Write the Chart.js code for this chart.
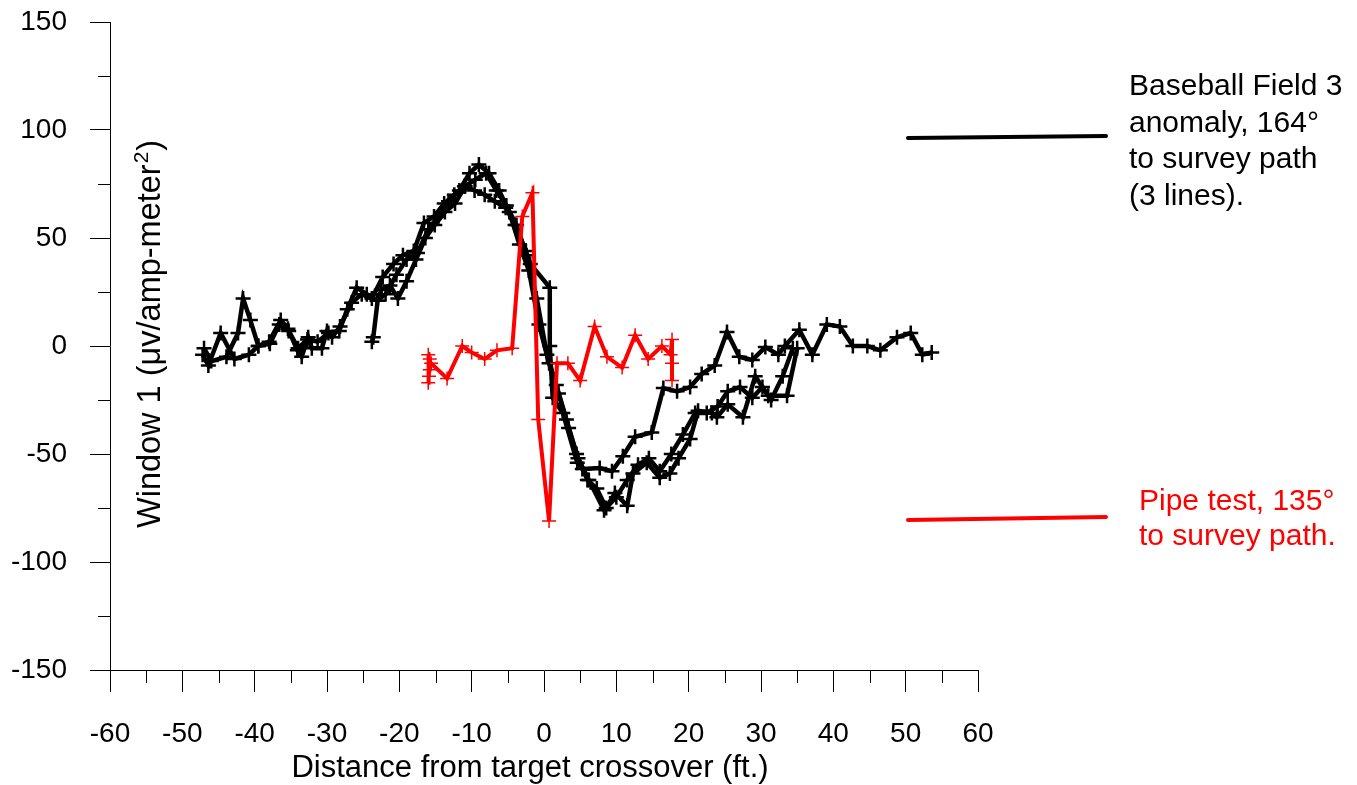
<!DOCTYPE html>
<html lang="en">
<head>
  <meta charset="UTF-8" />
  <title>Window 1 – Baseball Field 3 vs pipe test</title>
  <script src="https://cdn.jsdelivr.net/npm/chart.js"></script>
  <style>
    html, body { margin: 0; background: #fff; }
    #wrap { width: 1357px; height: 785px; position: relative; }
  </style>
</head>
<body>
  <div id="wrap"><canvas id="chart"></canvas></div>

  <script>
    // Baseball Field 3 anomaly, three survey lines (ft., µv/amp-m²)
    const fieldAX = [-47.2,-46.4,-44.7,-42.8,-40.8,-39.5,-38.0,-36.4,-35.4,-34.1,-33.5,-32.6,-32.1,-30.7,-30.0,-29.3,-28.2,-26.6,-25.2,-23.8,-22.3,-20.8,-19.5,-18.0,-16.6,-15.2,-13.8,-12.4,-11.0,-9.6,-8.2,-6.8,-5.3,-4.0,-2.5,-1.9,0.8,0.8,1.2,2.6,4.6,5.3,7.7,9.4,10.9,12.6,14.9,16.5,18.4,20.2,21.8,23.6,25.3,27.0,28.8,30.6,32.4,33.3,35.3,37.1,39.1,40.9,42.7,44.7,46.5,48.8,50.7,52.3,53.6];
    const fieldAY = [-4,-9,6,-6,-4,0,2,12,8,-2,-5,4,-1,-1,7,4,9,20,24,22,32,38,42,44,57,60,66,70,74,72,70,67,64,56,44,38,27,0,-24,-31,-54,-57,-56.5,-58,-51,-42,-40,-19.5,-21,-19,-13,-9,6.5,-5,-6.5,-0.5,-4,0,7.5,-4,10,9,0,0,-2,4,6,-4,-3];

    const fieldBX = [-47.0,-46.0,-43.9,-42.3,-41.6,-40.6,-39.5,-37.9,-36.6,-35.3,-34.0,-32.7,-31.3,-29.8,-28.3,-27.2,-25.9,-24.5,-23.1,-21.9,-20.4,-19.0,-17.5,-16.0,-14.6,-13.2,-11.7,-10.3,-9.0,-7.6,-6.2,-4.8,-3.4,-2.1,-0.7,0.7,2.0,3.4,4.7,6.2,8.3,10.0,11.5,13.0,14.5,16.0,17.6,19.2,20.9,22.5,24.0,25.4,27.1,28.8,30.2,31.4,33.0,34.4];
    const fieldBY = [-1,-7,-5,6,22,12,0,1,10,7,-1,3,2,6,7,17,27,24,21,24,33,40,43,54,60,67,72,80,84,80,72,62,47,35,10,-8,-22,-38,-52,-62,-76,-70,-62,-55,-52,-58,-50,-41,-31,-31,-28,-21,-19,-24,-19,-25,-14,-1];

    const fieldCX = [-23.8,-23.6,-23.0,-22.5,-21.3,-20.2,-19.0,-17.7,-16.4,-15.1,-13.7,-12.3,-10.9,-9.5,-8.0,-6.6,-5.2,-3.8,-2.4,-1.0,0.4,1.7,3.1,4.5,6.0,7.3,8.6,9.8,11.5,12.3,14.2,16.0,17.4,18.6,20.2,21.3,23.2,23.9,25.4,27.5,29.2,31.0,33.6,35.0];
    const fieldCY = [2,4,21,26,28,22,30,40,50,56,62,66,74,77,80,72,65,56,42,22,-4,-18,-34,-50,-62,-66,-75,-68,-74,-59,-54,-61,-59,-52,-43,-30,-31,-33,-27,-33,-14,-23,-23,-1];

    // Pipe test, 135 deg to survey path
    const pipeX = [-16.0,-16.0,-15.9,-15.8,-15.8,-15.6,-13.4,-11.3,-10.0,-8.2,-6.5,-4.4,-3.0,-1.6,-0.8,0.7,1.8,3.3,5.0,7.0,8.7,10.8,12.6,14.4,16.3,17.5,17.7,17.7,17.7];
    const pipeY = [-17,-4,-14,-6,-11,-8,-15,0,-3,-6,-2,-1,60,71,-34,-81,-8,-8,-16,9,-5,-10,5,-6,0,-4,3,-16,-8];

    // axis ticks
    const xMajor = [-60,-50,-40,-30,-20,-10,0,10,20,30,40,50,60];
    const xMinor = [-55,-45,-35,-25,-15,-5,5,15,25,35,45,55];
    const yMajor = [-150,-100,-50,0,50,100,150];
    const yMinor = [-125,-75,-25,25,75,125];

    const blackLegend = ['Baseball Field 3', 'anomaly, 164\u00B0', 'to survey path', '(3 lines).'];
    const redLegend = ['Pipe test, 135\u00B0', 'to survey path.'];

    const FONT = '"Liberation Sans", Arial, sans-serif';
    const pts = (xs, ys) => xs.map((x, i) => ({ x: x, y: ys[i] }));

    const blackSet = (label, xs, ys) => ({
      label: label,
      data: pts(xs, ys),
      showLine: true,
      borderColor: '#000',
      borderWidth: 4.5,
      pointStyle: 'cross',
      pointRadius: 7.5,
      pointBorderWidth: 2.5,
      pointBorderColor: '#000',
      order: 2
    });

    // minor ticks, legend, axis titles
    const extras = {
      id: 'extras',
      afterDraw(chart) {
        const ctx = chart.ctx;
        const xs = chart.scales.x, ys = chart.scales.y;
        ctx.save();
        ctx.strokeStyle = '#000';
        ctx.lineWidth = 1;
        ctx.beginPath();
        yMinor.forEach(v => {
          const p = Math.round(ys.getPixelForValue(v)) + 0.5;
          ctx.moveTo(xs.left - 12, p); ctx.lineTo(xs.left, p);
        });
        xMinor.forEach(v => {
          const p = Math.round(xs.getPixelForValue(v)) + 0.5;
          ctx.moveTo(p, ys.bottom); ctx.lineTo(p, ys.bottom + 13);
        });
        ctx.stroke();

        // legend lines
        ctx.lineCap = 'round';
        ctx.lineWidth = 4;
        ctx.strokeStyle = '#000';
        ctx.beginPath(); ctx.moveTo(908, 138); ctx.lineTo(1106, 136); ctx.stroke();
        ctx.strokeStyle = '#ff0000';
        ctx.beginPath(); ctx.moveTo(908, 520); ctx.lineTo(1106, 517); ctx.stroke();

        ctx.font = '30px ' + FONT;
        ctx.textAlign = 'left';
        ctx.textBaseline = 'alphabetic';
        ctx.fillStyle = '#000';
        blackLegend.forEach((t, i) => ctx.fillText(t, 1129, 95 + i * 36.7));
        ctx.fillStyle = '#ff0000';
        redLegend.forEach((t, i) => ctx.fillText(t, 1139, 510 + i * 35));

        // x title
        ctx.fillStyle = '#000';
        ctx.font = '31px ' + FONT;
        ctx.textAlign = 'center';
        ctx.fillText('Distance from target crossover (ft.)', 530, 777);

        // y title, rotated, with superscript 2
        ctx.translate(160, 528);
        ctx.rotate(-Math.PI / 2);
        ctx.textAlign = 'left';
        const main = 'Window 1 (\u03BCv/amp-meter';
        ctx.font = '32.5px ' + FONT;
        ctx.fillText(main, 0, 0);
        let w = ctx.measureText(main).width;
        ctx.font = '21px ' + FONT;
        ctx.fillText('2', w + 1, -12);
        w += ctx.measureText('2').width + 2;
        ctx.font = '32.5px ' + FONT;
        ctx.fillText(')', w, 0);
        ctx.restore();
      }
    };

    new Chart(document.getElementById('chart'), {
      type: 'scatter',
      data: {
        datasets: [
          {
            label: 'Pipe test',
            data: pts(pipeX, pipeY),
            showLine: true,
            borderColor: '#ff0000',
            borderWidth: 4,
            pointStyle: 'cross',
            pointRadius: 7,
            pointBorderWidth: 1.5,
            pointBorderColor: '#ff0000',
            order: 1
          },
          blackSet('Field line 1', fieldAX, fieldAY),
          blackSet('Field line 2', fieldBX, fieldBY),
          blackSet('Field line 3', fieldCX, fieldCY)
        ]
      },
      options: {
        animation: false,
        responsive: true,
        maintainAspectRatio: false,
        layout: { padding: { top: 22, right: 379, left: 0, bottom: 0 } },
        plugins: {
          legend: { display: false },
          tooltip: { enabled: false }
        },
        scales: {
          x: {
            type: 'linear',
            min: -60,
            max: 60,
            afterBuildTicks: s => { s.ticks = xMajor.map(v => ({ value: v })); },
            afterFit: s => { s.height = 115; s.paddingLeft = 0; s.paddingRight = 0; },
            ticks: {
              color: '#000',
              font: { family: FONT, size: 28 },
              padding: 25,
              maxRotation: 0,
              autoSkip: false
            },
            grid: { drawOnChartArea: false, drawTicks: true, tickLength: 22, color: '#000', tickWidth: 1 },
            border: { display: true, color: '#000', width: 1 }
          },
          y: {
            type: 'linear',
            min: -150,
            max: 150,
            afterBuildTicks: s => { s.ticks = yMajor.map(v => ({ value: v })); },
            afterFit: s => { s.width = 110; s.paddingTop = 0; s.paddingBottom = 0; },
            ticks: {
              color: '#000',
              font: { family: FONT, size: 28 },
              padding: 23,
              autoSkip: false
            },
            grid: { drawOnChartArea: false, drawTicks: true, tickLength: 20, color: '#000', tickWidth: 1 },
            border: { display: true, color: '#000', width: 1 }
          }
        }
      },
      plugins: [extras]
    });
  </script>
</body>
</html>
